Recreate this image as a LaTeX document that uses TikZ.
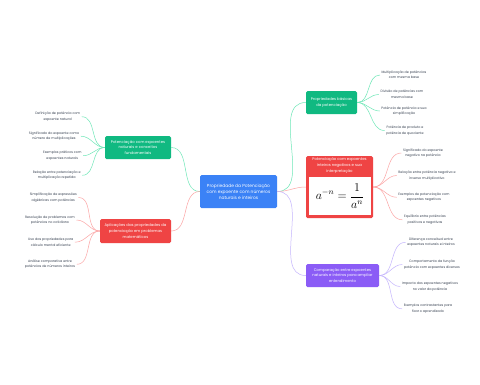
\documentclass[tikz,border=0pt]{standalone}
\usepackage{fontspec}
\setmainfont{Poppins}
\definecolor{cblue}{HTML}{3B82F6}
\definecolor{cgreen}{HTML}{10B981}
\definecolor{cred}{HTML}{EF4444}
\definecolor{cpurple}{HTML}{8B5CF6}
\definecolor{lgreen}{HTML}{6EE7B7}
\definecolor{lred}{HTML}{FCA5A5}
\definecolor{lpurple}{HTML}{C4B5FD}
\definecolor{leaftext}{HTML}{374151}
\begin{document}
\begin{tikzpicture}[x=1pt,y=-1pt,
  topic/.style={rounded corners=1.5pt, text=white, align=center, inner sep=0pt,
     font=\fontsize{3.8}{5.6}\selectfont},
  leaf/.style={text=leaftext, align=center, inner sep=1.5pt,
     font=\fontsize{3.3}{5.5}\selectfont},
  gline/.style={draw=lgreen, line width=0.5pt},
  rline/.style={draw=lred, line width=0.5pt},
  pline/.style={draw=lpurple, line width=0.5pt}]
\useasboundingbox[fill=white] (0,0) rectangle (480,384);

% central
\node[topic, fill=cblue, minimum width=77pt, minimum height=33pt,
  font=\fontsize{4.4}{6}\selectfont] (c) at (238.5,191.5)
  {Propriedade da Potenciação\\com expoente com números\\naturais e inteiros};

% main topics
\node[topic, fill=cgreen, minimum width=51pt, minimum height=23pt] (g1) at (331.5,102.5)
  {Propriedades básicas\\da potenciação};
\node[topic, fill=cred, minimum width=67pt, minimum height=62pt] (r1) at (339.5,187) {};
\node[topic, anchor=center] (r1t) at (339.5,165.5)
  {Potenciação com expoentes\\inteiros negativos e sua\\interpretação};
\node[fill=white, minimum width=62pt, minimum height=38pt, inner sep=0pt] (r1f) at (340,196)
  {\fontsize{12}{14}\selectfont$\displaystyle a^{-n}=\frac{1}{a^{n}}$};
\node[topic, fill=cpurple, minimum width=73pt, minimum height=23pt] (p1) at (342.5,275.5)
  {Comparação entre expoentes\\naturais e inteiros para ampliar\\entendimento};
\node[topic, fill=cgreen, minimum width=66pt, minimum height=23pt] (g2) at (138,147.5)
  {Potenciação com expoentes\\naturais e conceitos\\fundamentais};
\node[topic, fill=cred, minimum width=71pt, minimum height=24pt] (r2) at (135.5,231)
  {Aplicações das propriedades da\\potenciação em problemas\\matemáticos};

% main connectors
\draw[gline] (c.east) to[out=0,in=180] (g1.west);
\draw[rline] (c.east) to[out=0,in=180] (r1.west);
\draw[pline] (c.east) to[out=0,in=180] (p1.west);
\draw[gline] (c.west) to[out=180,in=0] (g2.east);
\draw[rline] (c.west) to[out=180,in=0] (r2.east);

% leaves: green top right
\node[leaf] (g1a) at (404,75) {Multiplicação de potências\\com mesma base};
\node[leaf] (g1b) at (402,94.5) {Divisão de potências com\\mesma base};
\node[leaf] (g1c) at (404,111) {Potência de potência e sua\\simplificação};
\node[leaf] (g1d) at (405,130.5) {Potência de produto e\\potência de quociente};
\foreach \n in {g1a,g1b,g1c,g1d} \draw[gline] (g1.east) to[out=0,in=180] (\n.west);

% leaves: red right
\node[leaf] (r1a) at (423,153) {Significado do expoente\\negativo na potência};
\node[leaf] (r1b) at (427,175.5) {Relação entre potência negativa e\\inverso multiplicativo};
\node[leaf] (r1c) at (424,197.3) {Exemplos de potenciação com\\expoentes negativos};
\node[leaf] (r1d) at (425,219.8) {Equilíbrio entre potências\\positivas e negativas};
\foreach \n in {r1a,r1b,r1c,r1d} \draw[rline] (r1.east) to[out=0,in=180] (\n.west);

% leaves: purple
\node[leaf] (p1a) at (431,242.3) {Diferença conceitual entre\\expoentes naturais e inteiros};
\node[leaf] (p1b) at (432,264.5) {Comportamento da função\\potência com expoentes diversos};
\node[leaf] (p1c) at (430,286.5) {Impacto dos expoentes negativos\\no valor da potência};
\node[leaf] (p1d) at (428,308.8) {Exemplos contrastantes para\\fixar o aprendizado};
\foreach \n in {p1a,p1b,p1c,p1d} \draw[pline] (p1.east) to[out=0,in=180] (\n.west);

% leaves: green left
\node[leaf] (g2a) at (57.7,116.7) {Definição de potência com\\expoente natural};
\node[leaf] (g2b) at (54,136.2) {Significado do expoente como\\número de multiplicações};
\node[leaf] (g2c) at (62.3,155.7) {Exemplos práticos com\\expoentes naturais};
\node[leaf] (g2d) at (56.7,175.3) {Relação entre potenciação e\\multiplicação repetida};
\foreach \n in {g2a,g2b,g2c,g2d} \draw[gline] (g2.west) to[out=180,in=0] (\n.east);

% leaves: red left
\node[leaf] (r2a) at (53.3,197.5) {Simplificação de expressões\\algébricas com potências};
\node[leaf] (r2b) at (50,220) {Resolução de problemas com\\potências no cotidiano};
\node[leaf] (r2c) at (50.7,242.2) {Uso das propriedades para\\cálculo mental eficiente};
\node[leaf] (r2d) at (50,264.3) {Análise comparativa entre\\potências de números inteiros};
\foreach \n in {r2a,r2b,r2c,r2d} \draw[rline] (r2.west) to[out=180,in=0] (\n.east);
\end{tikzpicture}
\end{document}
